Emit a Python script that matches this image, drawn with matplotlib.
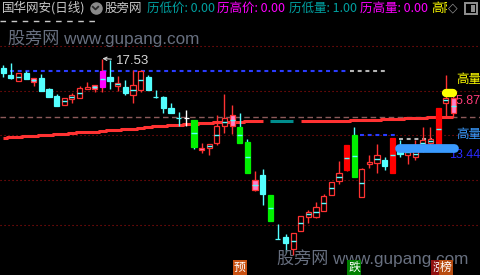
import matplotlib.pyplot as plt
import numpy as np
from matplotlib.patches import Rectangle
from matplotlib.transforms import blended_transform_factory

plt.rcParams['font.family'] = ['Noto Sans CJK SC', 'DejaVu Sans']

# daily bars, oldest first
opens = [17.14, 16.83, 16.59, 16.90, 16.69, 16.69, 16.23, 15.94, 15.57, 15.80,
         15.87, 16.25, 16.41, 16.34, 16.76, 16.38, 16.34, 15.98, 16.20, 16.76,
         15.91, 15.89, 15.45, 15.00, 15.00, 14.92, 13.75, 13.75, 13.94, 14.67,
         15.14, 14.64, 14.00, 12.38, 12.59, 11.75, 9.88, 9.95, 9.45, 10.23,
         10.83, 10.80, 11.08, 11.76, 12.35, 12.81, 14.29, 11.67, 13.08, 13.12,
         13.23, 12.69, 13.65, 13.44, 13.34, 13.79, 13.94, 13.65, 15.66, 15.84]
highs = [17.25, 17.33, 16.90, 17.00, 16.69, 16.87, 16.28, 16.01, 15.87, 16.06,
         16.37, 16.52, 16.41, 17.53, 17.48, 16.79, 16.62, 17.04, 17.04, 16.83,
         16.20, 15.94, 15.66, 15.28, 15.35, 14.92, 13.96, 13.91, 15.12, 16.03,
         15.56, 15.21, 14.11, 12.76, 12.85, 11.75, 10.52, 10.08, 10.12, 10.86,
         11.11, 11.46, 11.79, 12.30, 13.19, 13.86, 14.62, 12.90, 13.44, 13.91,
         13.37, 14.17, 14.08, 13.68, 14.08, 14.63, 14.62, 15.42, 16.83, 15.84]
lows = [16.76, 16.66, 16.59, 16.66, 16.37, 16.15, 15.91, 15.53, 15.57, 15.66,
        15.87, 16.25, 16.10, 16.12, 16.23, 16.17, 15.98, 15.64, 16.12, 16.20,
        15.84, 15.21, 15.23, 14.67, 14.67, 13.70, 13.54, 13.44, 13.86, 14.36,
        14.33, 13.96, 12.69, 11.93, 11.32, 10.66, 9.87, 9.33, 9.20, 10.23,
        10.57, 10.76, 11.08, 11.76, 12.21, 12.76, 12.52, 11.67, 12.88, 12.69,
        12.81, 12.69, 13.37, 13.06, 13.23, 13.57, 13.82, 13.65, 15.06, 15.06]
closes = [16.93, 16.72, 16.90, 16.66, 16.55, 16.15, 15.91, 15.53, 15.87, 15.98,
          16.28, 16.31, 16.25, 17.00, 16.59, 16.50, 16.06, 16.41, 17.00, 16.20,
          15.90, 15.45, 15.23, 14.99, 15.00, 13.79, 13.65, 13.91, 14.67, 15.02,
          14.67, 13.96, 12.69, 11.96, 11.79, 10.66, 9.87, 9.70, 10.12, 10.86,
          11.04, 11.25, 11.70, 12.30, 12.67, 13.86, 12.52, 12.83, 13.14, 13.44,
          12.98, 14.17, 13.48, 13.68, 13.65, 14.08, 14.11, 15.42, 15.87, 15.23]
# formula highlight per bar: g big drop, r big rise, m peak, p pink, w white doji
flags = ('....p.....' '..pm......' '....wgp...'
         'pggp.g....' '.....rg...' '.r.....r.p')

ma = [14.17, 14.22, 14.22, 14.26, 14.26, 14.30, 14.30, 14.32, 14.34, 14.39,
      14.43, 14.43, 14.43, 14.47, 14.51, 14.51, 14.56, 14.56, 14.60, 14.64,
      14.68, 14.68, 14.72, 14.73, 14.74, 14.75, 14.78, 14.80, 14.83, 14.83,
      14.84, 14.85, 14.87, 14.89, 14.89, 14.89, 14.89, 14.89, 14.89, 14.89,
      14.89, 14.89, 14.89, 14.89, 14.89, 14.89, 14.92, 14.94, 14.94, 14.94,
      14.96, 14.98, 14.98, 15.00, 15.02, 15.02, 15.04, 15.06, 15.06, 15.06]

grid_prices = [18.06, 16.15, 14.27, 12.38, 10.47]
last_price = 15.04
# (price, first bar, last bar)
level_spans = [(19.14, -0.42, 12.3), (17.00, 0.9, 45.2), (16.98, 45.5, 50.3),
               (14.27, 46.8, 51.6), (14.13, 51.9, 56.2)]
level_kind = ['top', 'blue', 'grey', 'blue', 'grey']
# high-volume markers: (first bar, last bar, price)
hv_yellow = (58.02, 58.96, 16.05)
hv_blue = (51.93, 59.03, 13.73)
hv_yellow_price = 15.87
hv_blue_price = 13.44
signal_bars = [31, 46, 57, 58]
signal_text = ['预', '跌', '涨', '榜']

CYAN = '#54ffff'
RED = '#ff3232'
GREEN = '#00f000'
MAGENTA = '#ff00ff'
PINK = '#ff80c8'
TEAL = '#008c8c'

fig = plt.figure(figsize=(4.8, 2.75), dpi=100, facecolor='black')
ax = fig.add_axes([0, 0, 1, 1])
ax.set_facecolor('black')
ax.set_xlim(-0.42, 62.49)
ax.set_ylim(8.356, 20.009)
ax.axis('off')

# background grid and price levels
for p in grid_prices:
    ax.axhline(p, color='#a01010', lw=0.8, ls=(0, (1, 2.6)), zorder=1)
ax.axhline(last_price, color='#8c5a5a', lw=1.0, ls=(0, (4, 2.5)), zorder=1)
level_style = {'top': ('#c8c8c8', 1.0, (0, (4, 4))),
               'blue': ('#2a3cff', 1.5, (0, (1.9, 1.8))),
               'grey': ('#b4b4b4', 1.5, (0, (1.9, 1.8)))}
for (p, a, b), kind in zip(level_spans, level_kind):
    col, lw, ls = level_style[kind]
    ax.hlines(p, a, b, colors=col, lw=lw, linestyles=[ls], zorder=2)

# moving average, teal where it runs flat
xs = np.arange(len(ma))
for a, b, col in [(0, 35, RED), (35, 39, TEAL), (39, 60, RED)]:
    ax.plot(xs[a:b], ma[a:b], color=col, lw=2.2, drawstyle='steps-mid',
            solid_capstyle='butt', zorder=3)

# candles
W = 0.68
for i, (o, h, l, c, f) in enumerate(zip(opens, highs, lows, closes, flags)):
    up = c >= o
    if f == 'g':
        face, edge, wick = GREEN, GREEN, CYAN
    elif f == 'r':
        face, edge, wick = '#ff0000', '#ff0000', RED
    elif f == 'm':
        face, edge, wick = MAGENTA, MAGENTA, RED
    elif f == 'p':
        face, edge, wick = PINK, RED, RED
    elif f == 'w':
        face, edge, wick = 'white', 'white', 'white'
    elif up:
        face, edge, wick = 'black', RED, RED
    else:
        face, edge, wick = CYAN, CYAN, CYAN
    lo, hi = min(o, c), max(o, c)
    ax.vlines(i, l, h, colors=wick, lw=1.0, zorder=5)
    ax.add_patch(Rectangle((i - W / 2, lo), W, max(hi - lo, 0.01),
                           facecolor=face, edgecolor=edge, lw=0.9, zorder=6))
    if (f in 'grmp' or (f == '.' and up)) and hi - lo > 0.1:
        ax.hlines((o + c) / 2, i - W / 2, i + W / 2, colors=CYAN, lw=1.0, zorder=7)

# peak marker
top = int(np.argmax(highs))
ax.annotate(f'{highs[top]:.2f}', xy=(top, highs[top]), xytext=(9.5, -1.5),
            textcoords='offset points', color='#d8d8d8', fontsize=9.5,
            family='Liberation Sans', va='center', ha='left', zorder=9,
            arrowprops=dict(arrowstyle='->', color='#d8d8d8', lw=0.8,
                            shrinkA=1, shrinkB=0, mutation_scale=6))

# high-volume bars
ax.plot(hv_yellow[:2], [hv_yellow[2]] * 2, color='#ffff00', lw=6.0,
        solid_capstyle='round', zorder=8)
ax.plot(hv_blue[:2], [hv_blue[2]] * 2, color='#3a9bff', lw=6.3,
        solid_capstyle='round', zorder=8)
ax.text(59.34, 16.66, '高量', color='#ffff00', fontsize=9, va='center', zorder=9)
ax.annotate(f'{hv_yellow_price:.2f}', xy=(58.43, hv_yellow_price), xytext=(0, -2.3),
            textcoords='offset points', color='#ff3c78', fontsize=9,
            family='Liberation Sans', va='center', zorder=5.5)
ax.text(59.34, 14.33, '高量', color='#3a9bff', fontsize=9, va='center', zorder=9)
ax.text(58.43, hv_blue_price, f'{hv_blue_price:.2f}', color='#2a2aff', fontsize=9,
        family='Liberation Sans', va='center', zorder=7.5)

# watermarks
wm = dict(color='#687080', fontsize=12.3, family=['Liberation Sans', 'Noto Sans CJK SC'],
          va='center', ha='left', transform=ax.transAxes, zorder=10)
ax.text(8 / 480, 1 - 38.5 / 275, '股旁网 www.gupang.com', **wm)
ax.text(277 / 480, 1 - 258.5 / 275, '股旁网 www.gupang.com', **wm)

# signal tags along the bottom
sig_bg = {'预': '#c85010', '跌': '#008000', '涨': '#901010', '榜': '#b84c10'}
bt = blended_transform_factory(ax.transData, ax.transAxes)
for b, s in zip(signal_bars, signal_text):
    ax.text(b, 1 - 267.5 / 275, s, transform=bt, color='white', fontsize=8.5,
            ha='center', va='center', zorder=11,
            bbox=dict(boxstyle='square,pad=0.08', fc=sig_bg[s], ec='none'))

# title bar
hy = 1 - 8 / 275
head = [(2, '国华网安(日线)', '#c8c8c8'), (105, '股旁网', '#c8c8c8'),
        (147, '历低价: 0.00', '#00a0a0'), (217, '历高价: 0.00', '#ff00ff'),
        (289, '历低量: 1.00', '#00a0a0'), (360, '历高量: 0.00', '#ff00ff'),
        (431, '高阶', '#ffff00')]
for px, s, col in head:
    ax.text(px / 480, hy, s, transform=ax.transAxes, color=col, fontsize=9,
            va='center', ha='left', zorder=12)
ax.plot([95.5 / 480], [hy], 'o', ms=8, color='#8a8a8a', transform=ax.transAxes, zorder=12)
ax.plot(np.array([92.8, 95.5, 98.2]) / 480, 1 - np.array([6.8, 9.4, 6.8]) / 275,
        color='#2a2a2a', lw=1.3, transform=ax.transAxes, zorder=13)
ax.add_patch(Rectangle((447 / 480, 0.9), 13 / 480, 0.1, transform=ax.transAxes,
                       fc='black', ec='none', zorder=12.5))
ax.text(452.5 / 480, hy, '◇', transform=ax.transAxes, color='#909090', fontsize=9,
        family='DejaVu Sans', ha='center', va='center', zorder=13)
ax.add_patch(Rectangle((465 / 480, 1 - 14 / 275), 12 / 480, 11 / 275, transform=ax.transAxes,
                       fc='black', ec='#909090', lw=1.4, zorder=12))
ax.add_patch(Rectangle((471 / 480, 1 - 12 / 275), 4 / 480, 7 / 275, transform=ax.transAxes,
                       fc='#909090', ec='none', zorder=13))

fig.savefig('out.png', dpi=100, facecolor='black')
